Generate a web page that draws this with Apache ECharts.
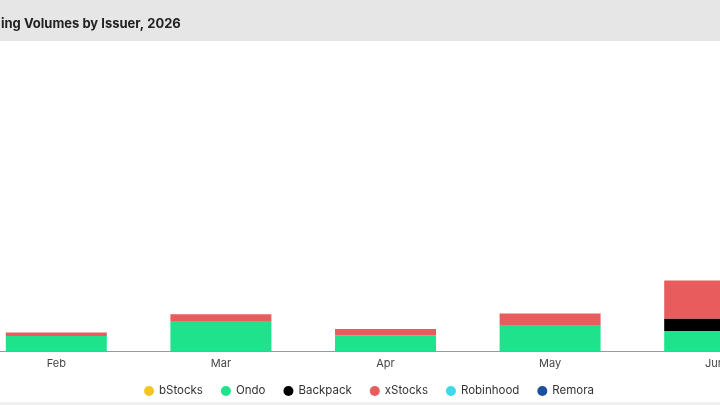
<!DOCTYPE html>
<html>
<head>
<meta charset="utf-8">
<script src="https://cdn.jsdelivr.net/npm/echarts@6/dist/echarts.min.js"></script>
<style>
  html, body { margin: 0; padding: 0; background: #ffffff; }
  #chart { width: 720px; height: 405px; }
</style>
</head>
<body>
<div id="chart"></div>
<script>
const titleText = 'ing Volumes by Issuer, 2026';
const months = ['Feb', 'Mar', 'Apr', 'May', 'Jun'];
const bStocks   = [0, 0, 0, 0, 0];
const ondo      = [75, 146, 77, 130, 100];
const backpack  = [0, 0, 0, 0, 63];
const xStocks   = [17, 38, 33, 57, 189];
const robinhood = [0, 0, 0, 0, 0];
const remora    = [0, 0, 0, 0, 0];

const seriesNames  = ['bStocks', 'Ondo', 'Backpack', 'xStocks', 'Robinhood', 'Remora'];
const seriesData   = [bStocks, ondo, backpack, xStocks, robinhood, remora];
const seriesColors = ['#f5c623', '#1ee38c', '#000000', '#e85c5e', '#3fd8e8', '#1c4f9c'];

const chart = echarts.init(document.getElementById('chart'));
chart.setOption({
  animation: false,
  backgroundColor: '#ffffff',
  graphic: [
    { type: 'rect', left: 0, top: 0, z: -10, shape: { width: 720, height: 41 }, style: { fill: '#e6e6e6' } },
    { type: 'rect', left: 0, top: 402, z: -10, shape: { width: 720, height: 3 }, style: { fill: '#f0f0f0' } }
  ],
  title: {
    text: titleText,
    left: -4,
    top: 13,
    textStyle: { fontFamily: 'Inter', fontWeight: 'bold', fontSize: 13, color: '#222222' }
  },
  legend: {
    data: seriesNames,
    left: 139,
    top: 380,
    icon: 'circle',
    itemWidth: 10,
    itemHeight: 10,
    itemGap: 18,
    textStyle: { fontFamily: 'Inter', fontSize: 11.5, color: '#333333' }
  },
  grid: { left: -26, width: 823, top: 51, height: 300, outerBoundsMode: 'none' },
  xAxis: {
    type: 'category',
    data: months,
    axisLine: { lineStyle: { color: '#9a9a9a', width: 1 } },
    axisTick: { show: false },
    axisLabel: { fontFamily: 'Inter', fontSize: 11, color: '#444444', margin: 7 }
  },
  yAxis: {
    type: 'value',
    min: 0,
    max: 1500,
    show: false,
    splitLine: { show: false }
  },
  series: seriesNames.map((name, i) => ({
    name: name,
    type: 'bar',
    stack: 'total',
    barWidth: 101,
    data: seriesData[i],
    itemStyle: { color: seriesColors[i] }
  }))
});
</script>
</body>
</html>
